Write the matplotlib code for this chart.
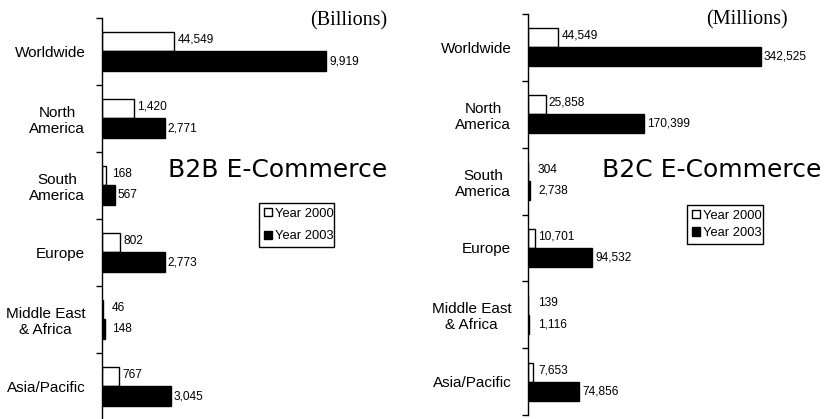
import matplotlib
matplotlib.use("Agg")
import matplotlib.pyplot as plt
from matplotlib.patches import Patch
from matplotlib.ticker import FixedLocator

# ---------------- data ----------------
regions = ["Worldwide", "North\nAmerica", "South\nAmerica", "Europe",
           "Middle East\n& Africa", "Asia/Pacific"]
regions_b2c = ["Worldwide", "North\nAmerica", "South\nAmerica", "Europe",
               "Middle East\n& Africa", "Asia/Pacific"]

# B2B (billions) - bar lengths as drawn
b2b_2000 = [3203, 1420, 168, 802, 46, 767]
b2b_2003 = [9919, 2771, 567, 2773, 148, 3045]
# printed labels (Worldwide 2000 label differs from drawn bar in the source)
b2b_2000_labels = ["44,549", "1,420", "168", "802", "46", "767"]
b2b_2003_labels = ["9,919", "2,771", "567", "2,773", "148", "3,045"]

# B2C (millions)
b2c_2000 = [44549, 25858, 304, 10701, 139, 7653]
b2c_2003 = [342525, 170399, 2738, 94532, 1116, 74856]
b2c_2000_labels = ["44,549", "25,858", "304", "10,701", "139", "7,653"]
b2c_2003_labels = ["342,525", "170,399", "2,738", "94,532", "1,116", "74,856"]

legend_labels = ["Year 2000", "Year 2003"]

# ---------------- figure ----------------
W, H = 830, 419
DPI = 100
fig = plt.figure(figsize=(W / DPI, H / DPI), dpi=DPI)
fig.patch.set_facecolor("white")

LABEL_FONT = "Liberation Sans"


def px_box(x0, top, x1, bottom):
    return [x0 / W, 1 - bottom / H, (x1 - x0) / W, (bottom - top) / H]


def make_panel(box, v0, v1, l0, l1, cats, maxval, maxpx):
    x0, top, x1, bottom = box
    ax = fig.add_axes(px_box(x0, top, x1, bottom))
    width_px = x1 - x0
    ax.set_xlim(0, maxval * width_px / maxpx)
    n = len(cats)
    ax.set_ylim(n - 0.5, -0.5)
    h = 0.285
    ys = list(range(n))
    ax.barh([y - h / 2 for y in ys], v0, height=h, color="white",
            edgecolor="black", linewidth=1.0)
    ax.barh([y + h / 2 for y in ys], v1, height=h, color="black",
            edgecolor="black", linewidth=1.0)
    unit = maxval / maxpx  # data per pixel
    for y, v, lab in zip(ys, v0, l0):
        xx = max(v + 3 * unit, 10 * unit)
        ax.text(xx, y - h / 2 - 0.03, lab, va="center", ha="left",
                fontsize=8.6, family=LABEL_FONT)
    for y, v, lab in zip(ys, v1, l1):
        xx = max(v + 3 * unit, 10 * unit)
        ax.text(xx, y + h / 2, lab, va="center", ha="left",
                fontsize=8.6, family=LABEL_FONT)
    for s in ["top", "right", "bottom"]:
        ax.spines[s].set_visible(False)
    ax.spines["left"].set_linewidth(1.0)
    ax.set_xticks([])
    ax.set_yticks(ys)
    ax.set_yticklabels(cats, fontsize=11, family=LABEL_FONT,
                       multialignment="center")
    ax.tick_params(axis="y", which="major", length=0, pad=12)
    ax.yaxis.set_minor_locator(FixedLocator([y - 0.5 for y in range(n + 1)]))
    ax.tick_params(axis="y", which="minor", length=4, width=1.0,
                   direction="out")
    ax.set_facecolor("none")
    return ax


ax1 = make_panel((102, 18, 400, 420), b2b_2000, b2b_2003,
                 b2b_2000_labels, b2b_2003_labels, regions, 9919, 224)
ax2 = make_panel((528, 14, 826, 415), b2c_2000, b2c_2003,
                 b2c_2000_labels, b2c_2003_labels, regions_b2c, 342525, 233)

# unit titles
fig.text(387 / W, 1 - 11 / H, "(Billions)", ha="right", va="top",
         fontsize=14.5, family="Liberation Serif")
fig.text(788 / W, 1 - 10 / H, "(Millions)", ha="right", va="top",
         fontsize=14.5, family="Liberation Serif")

# big panel titles
fig.text(168 / W, 1 - 177 / H, "B2B E-Commerce", ha="left", va="baseline",
         fontsize=18, family="DejaVu Sans")
fig.text(602 / W, 1 - 177 / H, "B2C E-Commerce", ha="left", va="baseline",
         fontsize=18, family="DejaVu Sans")

# legends
handles = [Patch(facecolor="white", edgecolor="black", linewidth=1.0),
           Patch(facecolor="black", edgecolor="black", linewidth=1.0)]


def add_legend(x0, top, x1, bottom, spacing):
    leg = fig.legend(handles, legend_labels,
                     bbox_to_anchor=px_box(x0, top, x1, bottom),
                     loc="center", mode="expand", fancybox=False,
                     framealpha=1, edgecolor="black",
                     prop={"family": LABEL_FONT, "size": 9.3},
                     handlelength=0.6, handleheight=0.6, handletextpad=0.25,
                     labelspacing=spacing, borderpad=0.4, borderaxespad=0)
    leg.get_frame().set_linewidth(1.0)


add_legend(259, 202, 334, 248, 0.8)
add_legend(687, 207, 763, 242, 0.4)

fig.savefig("out.png", dpi=DPI, facecolor="white")
